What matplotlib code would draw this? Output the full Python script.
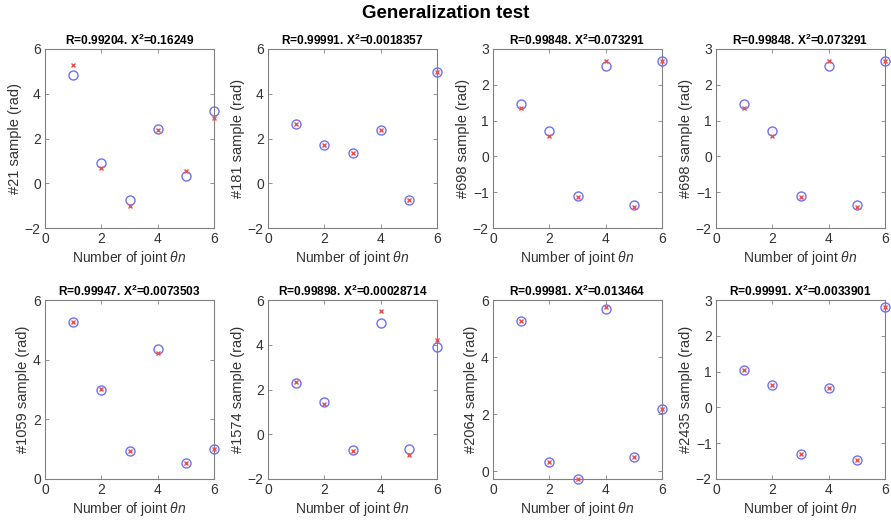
import matplotlib
matplotlib.use("Agg")
import matplotlib.pyplot as plt
import numpy as np

plt.rcParams['font.family'] = ['Liberation Sans', 'DejaVu Sans']
plt.rcParams['mathtext.fontset'] = 'custom'
plt.rcParams['mathtext.it'] = 'Liberation Sans:italic'
plt.rcParams['mathtext.rm'] = 'Liberation Sans'
plt.rcParams['mathtext.bf'] = 'Liberation Sans:bold'

joints = [1, 2, 3, 4, 5, 6]

sample_labels = ["#21", "#181", "#698", "#698", "#1059", "#1574", "#2064", "#2435"]
titles_R = ["0.99204", "0.99991", "0.99848", "0.99848", "0.99947", "0.99898", "0.99981", "0.99991"]
titles_X2 = ["0.16249", "0.0018357", "0.073291", "0.073291", "0.0073503", "0.00028714", "0.013464", "0.0033901"]

# red crosses (target)
target_21 = [5.28, 0.68, -1.03, 2.39, 0.53, 2.92]
target_181 = [2.66, 1.69, 1.34, 2.39, -0.77, 4.96]
target_698 = [1.35, 0.56, -1.14, 2.66, -1.40, 2.67]
target_1059 = [5.26, 3.01, 0.93, 4.21, 0.54, 1.02]
target_1574 = [2.35, 1.33, -0.73, 5.49, -0.91, 4.22]
target_2064 = [5.27, 0.31, -0.27, 5.77, 0.50, 2.17]
target_2435 = [1.04, 0.62, -1.30, 0.54, -1.47, 2.81]

# blue circles (predicted)
pred_21 = [4.84, 0.90, -0.74, 2.44, 0.31, 3.24]
pred_181 = [2.66, 1.69, 1.34, 2.39, -0.77, 4.96]
pred_698 = [1.46, 0.72, -1.12, 2.52, -1.35, 2.67]
pred_1059 = [5.26, 2.97, 0.93, 4.35, 0.54, 1.02]
pred_1574 = [2.31, 1.46, -0.69, 4.99, -0.65, 3.92]
pred_2064 = [5.27, 0.31, -0.27, 5.70, 0.50, 2.17]
pred_2435 = [1.04, 0.62, -1.30, 0.54, -1.47, 2.81]

targets = [target_21, target_181, target_698, target_698, target_1059, target_1574, target_2064, target_2435]
preds = [pred_21, pred_181, pred_698, pred_698, pred_1059, pred_1574, pred_2064, pred_2435]

ylims = [(-2, 6), (-2, 6), (-2, 3), (-2, 3), (0, 6), (-2, 6), (-0.27, 6), (-2, 3)]
yticks = [[-2, 0, 2, 4, 6], [-2, 0, 2, 4, 6], [-2, -1, 0, 1, 2, 3], [-2, -1, 0, 1, 2, 3],
          [0, 2, 4, 6], [-2, 0, 2, 4, 6], [0, 2, 4, 6], [-2, -1, 0, 1, 2, 3]]

W, H = 891, 524
fig = plt.figure(figsize=(W / 100, H / 100), dpi=100)

lefts = [45, 268, 493, 716]
tops = [49, 300]
aw, ah = 169, 179

axcol = '#808080'
txtcol = '#333333'

for i in range(8):
    r, c = divmod(i, 4)
    ax = fig.add_axes([lefts[c] / W, 1 - (tops[r] + ah) / H, aw / W, ah / H])
    ax.plot(joints, preds[i], 'o', mfc='none', mec='#7070f0', mew=1.0, ms=6.5, clip_on=False, zorder=3)
    ax.plot(joints, targets[i], 'x', color='#f05050', mew=1.0, ms=3.2, clip_on=False, zorder=4)
    ax.set_xlim(0, 6)
    ax.set_ylim(*ylims[i])
    ax.set_xticks([0, 2, 4, 6])
    ax.set_yticks(yticks[i])
    ax.tick_params(direction='in', top=True, right=True, length=3, width=0.6,
                   colors=axcol, labelcolor=txtcol, labelsize=10, pad=3)
    for s in ax.spines.values():
        s.set_color(axcol)
        s.set_linewidth(0.8)
    ax.set_title(r"R=%s. X$^{\mathbf{2}}$=%s" % (titles_R[i], titles_X2[i]),
                 fontsize=8.6, fontweight='bold', pad=3)
    ax.set_ylabel("%s sample (rad)" % sample_labels[i], fontsize=10.5, color=txtcol, labelpad=2)
    ax.set_xlabel(r"Number of joint $\theta n$", fontsize=10, color=txtcol, labelpad=2)

fig.text(0.5, 1 - 14 / H, "Generalization test", ha='center', va='center',
         fontsize=13.5, fontweight='bold')

fig.savefig("out.png", dpi=100)
